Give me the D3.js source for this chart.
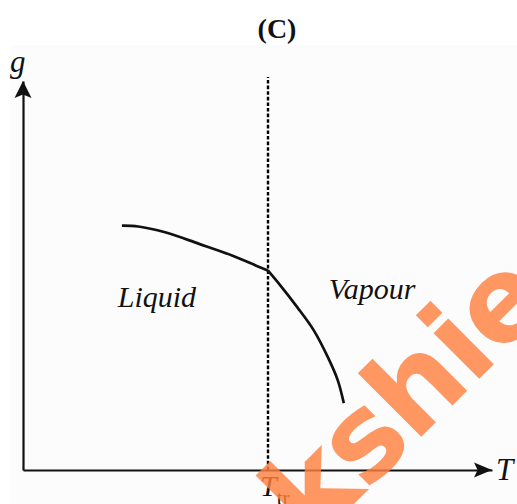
<!DOCTYPE html>
<html>
<head>
<meta charset="utf-8">
<script src="https://cdn.jsdelivr.net/npm/d3@7"></script>
<style>
  body { margin: 0; background: #fff; }
  svg { display: block; }
</style>
</head>
<body>
<div id="chart"></div>
<script>
"use strict";

/*global d3*/

// Gibbs energy g against temperature T, the two branches meet at T_tr
var liquidT = [2.11, 2.46, 3.03, 3.74, 4.47, 4.96, 5.22],
    liquidG = [6.28, 6.26, 6.11, 5.82, 5.51, 5.26, 5.13],
    vapourT = [5.22, 5.49, 5.85, 6.20, 6.50, 6.71, 6.84],
    vapourG = [5.13, 4.74, 4.18, 3.59, 2.90, 2.31, 1.72],
    tripleT = 5.22,
    phaseNames = ["Liquid", "Vapour"],
    phaseAt = [[2.02, 4.2], [6.52, 4.4]],
    title = "(C)",
    
    width = 517,
    height = 504,
    ink = "#111",
    serif = "Liberation Serif, Tinos, Nimbus Roman, DejaVu Serif, Noto Serif, serif";

var x = d3.scaleLinear().domain([0, 10]).range([23, 492]),
    y = d3.scaleLinear().domain([0, 10]).range([470, 81]);

var svg = d3.select("#chart").append("svg")
    .attr("width", width)
    .attr("height", height);

// faint grey paper of the scanned figure
svg.append("rect")
    .attr("x", 10)
    .attr("y", 45)
    .attr("width", width - 10)
    .attr("height", height - 45)
    .attr("fill", "#fcfcfc");

var label = function(txt, px, py, size, italic) {
    return svg.append("text")
	.attr("x", px)
	.attr("y", py)
	.style("font-family", serif)
	.attr("font-size", size)
	.attr("font-style", italic ? "italic" : "normal")
	.attr("fill", ink)
	.text(txt);
};

label(title, 277, 38, 28, false)
    .attr("text-anchor", "middle")
    .attr("font-weight", "bold");

// axes: plain lines, no ticks
var xAxis = svg.append("g")
    .attr("transform", "translate(0," + y(0) + ")")
    .call(d3.axisBottom(x).ticks(0).tickSizeOuter(0));

var yAxis = svg.append("g")
    .attr("transform", "translate(" + x(0) + ",0)")
    .call(d3.axisLeft(y).ticks(0).tickSizeOuter(0));

[xAxis, yAxis].forEach(function(a) {
    a.select(".domain")
	.attr("stroke", ink)
	.attr("stroke-width", 2.2);
});

var head = function(len, half) {
    return "M0,0L" + (-len) + "," + (-half) + "L" + (-len * 0.8) + ",0L" + (-len) + "," + half + "Z";
};

svg.append("path")
    .attr("d", head(18, 7.5))
    .attr("fill", ink)
    .attr("transform", "translate(" + x(10) + "," + y(0) + ")");

svg.append("path")
    .attr("d", head(17, 8.5))
    .attr("fill", ink)
    .attr("transform", "translate(" + x(0) + "," + y(10) + ") rotate(-90)");

// triple point temperature, snapped to whole pixels so the dashes stay dark
var tx = Math.round(x(tripleT));
svg.append("line")
    .attr("x1", tx)
    .attr("x2", tx)
    .attr("y1", y(0))
    .attr("y2", y(10) - 4)
    .attr("stroke", "#000")
    .attr("stroke-width", 2.4)
    .attr("stroke-dasharray", "3.6,2");

var line = d3.line()
    .x(function(d) { return x(d[0]); })
    .y(function(d) { return y(d[1]); })
    .curve(d3.curveCatmullRom.alpha(0.5));

[[liquidT, liquidG], [vapourT, vapourG]].forEach(function(s) {
    svg.append("path")
	.datum(d3.zip(s[0], s[1]))
	.attr("d", line)
	.attr("fill", "none")
	.attr("stroke", ink)
	.attr("stroke-width", 2.7)
	.attr("stroke-linejoin", "round");
});

phaseNames.forEach(function(d, i) {
    label(d, x(phaseAt[i][0]), y(phaseAt[i][1]), 30, true);
});

label("g", 10, 72, 31, true);
label("T", 496, 480, 31, true);

var ttr = label("T", tx - 8, 496, 30, true);
ttr.append("tspan")
    .attr("font-style", "normal")
    .attr("font-size", 21)
    .attr("dy", 9)
    .text("tr");

// site watermark over the figure
svg.append("text")
    .attr("transform", "translate(312,546) rotate(-45)")
    .style("font-family", "DejaVu Sans, sans-serif")
    .attr("font-weight", "bold")
    .attr("font-size", 118)
    .attr("letter-spacing", -2)
    .attr("fill", "#ff8040")
    .attr("fill-opacity", 0.82)
    .text("kshieducation");
</script>
</body>
</html>
